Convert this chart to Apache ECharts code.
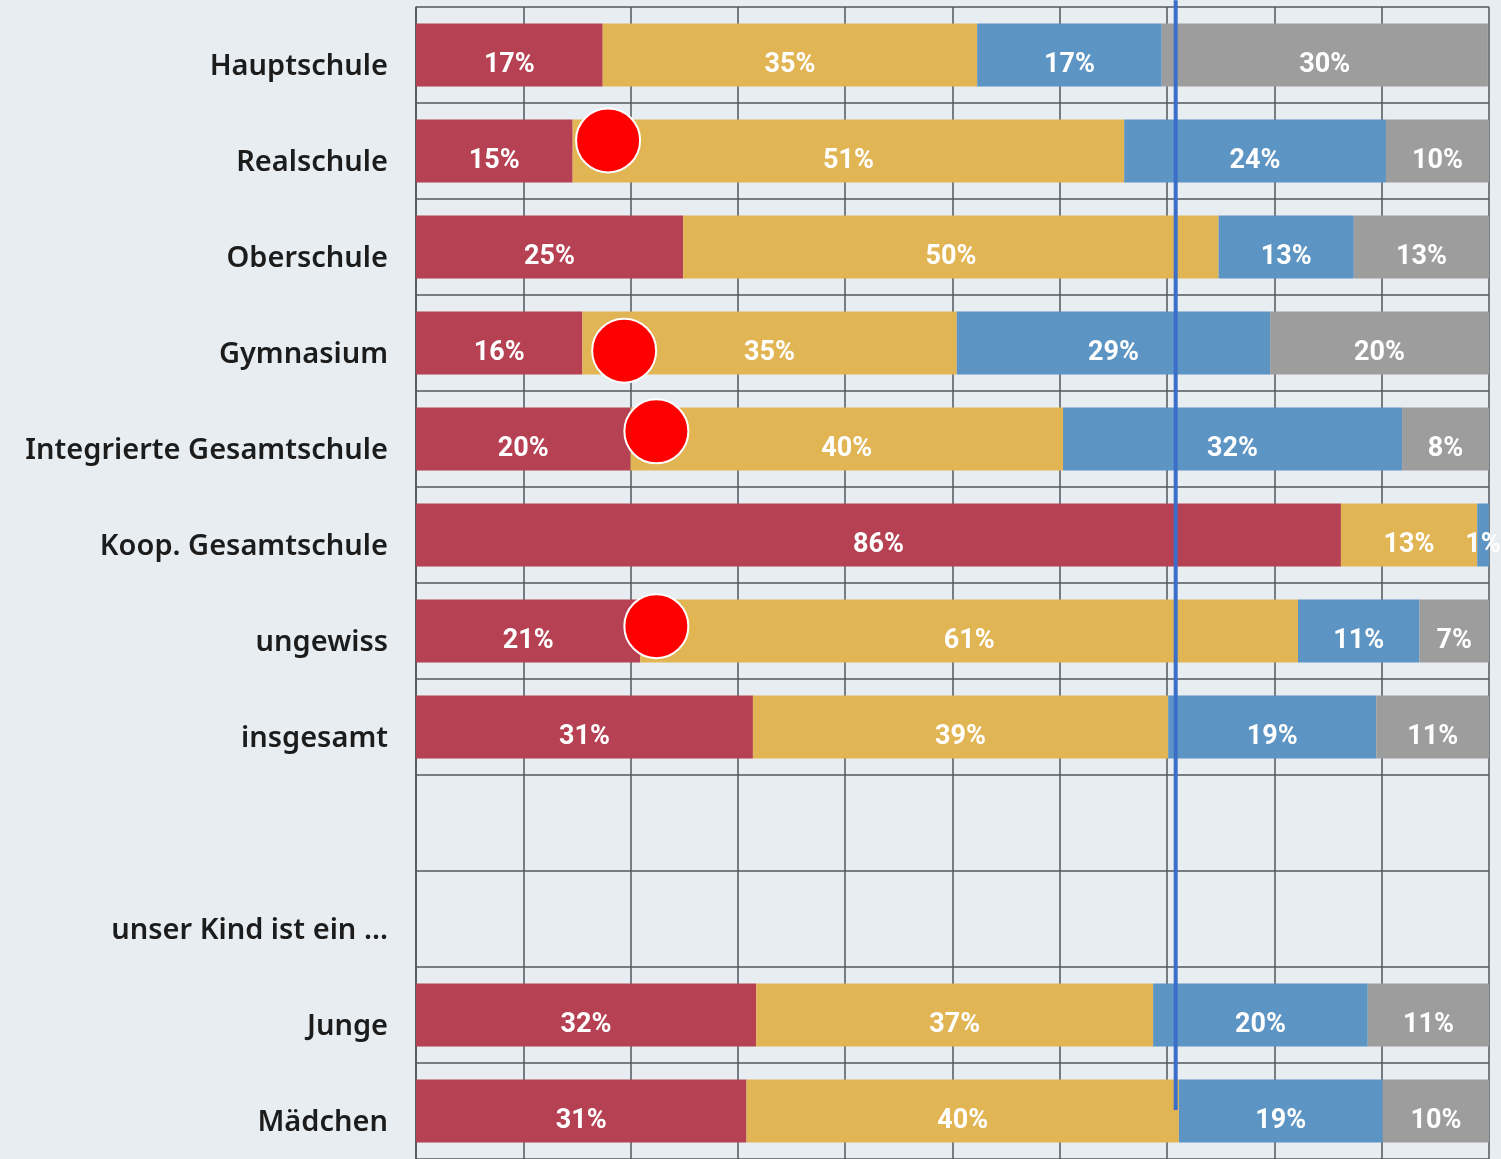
<!DOCTYPE html>
<html>
<head>
<meta charset="utf-8">
<script src="https://cdn.jsdelivr.net/npm/echarts@6/dist/echarts.min.js"></script>
<style>
  html, body { margin: 0; padding: 0; background: #e8edf2; }
  #chart { width: 1501px; height: 1159px; }
</style>
</head>
<body>
<div id="chart"></div>
<script>
// Kategorien (leere Zeile + Zwischenüberschrift wie im Original)
const categories = ['Hauptschule', 'Realschule', 'Oberschule', 'Gymnasium',
  'Integrierte Gesamtschule', 'Koop. Gesamtschule', 'ungewiss', 'insgesamt',
  ' ', 'unser Kind ist ein …', 'Junge', 'Mädchen']

// Anteile in %
const redData    = [17.4, 14.6, 24.9, 15.5, 20.0, 86.2, 20.9, 31.4, null, null, 31.7, 30.8]
const yellowData = [34.9, 51.4, 49.9, 34.9, 40.3, 12.7, 61.3, 38.7, null, null, 37.0, 40.3]
const blueData   = [17.2, 24.4, 12.6, 29.2, 31.6, 1.1, 11.3, 19.4, null, null, 20.0, 19.0]
const grayData   = [30.4, 9.6, 12.6, 20.4, 8.1, 0, 6.5, 10.5, null, null, 11.3, 9.9]

// rote Markierungen: [x in %, Zeilenposition]
const dotData = [[17.9, 1.39], [19.4, 3.58], [22.4, 4.42], [22.4, 6.45]]
// blaue Linie: [x in %, Zeilenposition]
const lineData = [[70.8, -0.07], [70.8, 11.49]]

const colors = ['#b54152', '#e2b554', '#5c94c3', '#9d9d9d']

let chart = echarts.init(document.getElementById('chart'))

const gridLine = { color: '#50565e', width: 1.5, type: 'solid' }

function barSeries(name, data, color) {
  return {
    name: name,
    type: 'bar',
    stack: 'total',
    barWidth: 63,
    data: data,
    itemStyle: { color: color },
    label: {
      show: true,
      position: 'inside',
      offset: [0, 10],
      color: '#fff',
      fontFamily: 'Roboto',
      fontWeight: 'bold',
      fontSize: 27,
      formatter: function (p) {
        if (p.value == null || p.value === 0) return ''
        return Math.round(p.value) + '%'
      }
    }
  }
}

let option = {
  backgroundColor: '#e8edf2',
  animation: false,
  grid: { left: 416, right: 12, top: 7, bottom: -3 },
  xAxis: {
    type: 'value',
    min: 0,
    max: 100,
    interval: 10,
    axisLabel: { show: false },
    axisTick: { show: false },
    axisLine: { show: false },
    splitLine: { show: true, lineStyle: gridLine }
  },
  yAxis: [{
    type: 'category',
    inverse: true,
    data: categories,
    axisTick: { show: false },
    axisLine: { show: true, lineStyle: gridLine },
    splitLine: { show: true, lineStyle: gridLine },
    axisLabel: {
      margin: 28,
      color: '#1c1c1c',
      fontFamily: 'Noto Sans',
      fontWeight: 600,
      fontSize: 29,
      lineHeight: 24,
      // leere erste Zeile schiebt den Text etwas nach unten, wie im Original
      formatter: function (v) { return '\n' + v }
    }
  }, {
    type: 'value',
    show: false,
    inverse: true,
    min: 0,
    max: 12
  }],
  series: [
    barSeries('rot', redData, colors[0]),
    barSeries('gelb', yellowData, colors[1]),
    barSeries('blau', blueData, colors[2]),
    barSeries('grau', grayData, colors[3]),
    {
      type: 'line',
      yAxisIndex: 1,
      data: lineData,
      clip: false,
      symbol: 'none',
      lineStyle: { color: '#3b6ec9', width: 4 },
      z: 5
    },
    {
      type: 'scatter',
      yAxisIndex: 1,
      data: dotData,
      symbolSize: 64,
      itemStyle: { color: '#ff0000', borderColor: '#fff', borderWidth: 2, opacity: 1 },
      z: 6
    }
  ]
}

chart.setOption(option)
</script>
</body>
</html>
